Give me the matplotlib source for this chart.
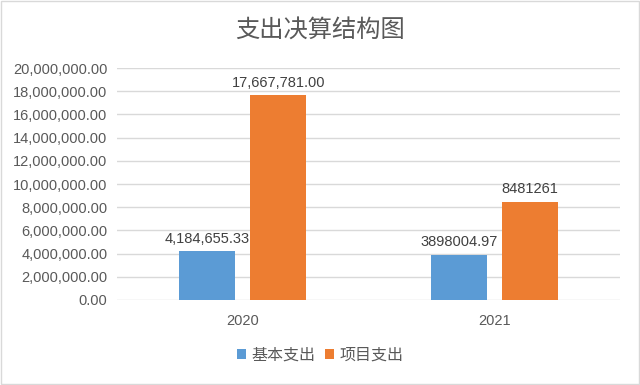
import matplotlib.pyplot as plt
import numpy as np
from matplotlib.ticker import FuncFormatter

plt.rcParams['font.family'] = ['Liberation Sans', 'Noto Sans CJK SC']

# 数据
categories = ['2020', '2021']
basic = [4184655.33, 3898004.97]
project = [17667781.00, 8481261]
basic_labels = ['4,184,655.33', '3898004.97']
project_labels = ['17,667,781.00', '8481261']
series_names = ['基本支出', '项目支出']

blue = '#5B9BD5'
orange = '#ED7D31'
txt = '#595959'

fig = plt.figure(figsize=(6.4, 3.85), dpi=100)
ax = fig.add_axes([0.183, 0.221, 0.786, 0.602])

x = np.arange(len(categories))
w = 0.223
off = 0.141
b1 = ax.bar(x - off, basic, w, color=blue, label=series_names[0], zorder=3)
b2 = ax.bar(x + off, project, w, color=orange, label=series_names[1], zorder=3)

for rect, lab in zip(b1, basic_labels):
    ax.annotate(lab, (rect.get_x() + rect.get_width() / 2, rect.get_height()),
                xytext=(0, 4), textcoords='offset points', ha='center', va='bottom',
                fontsize=10.5, color='#404040')
for rect, lab in zip(b2, project_labels):
    ax.annotate(lab, (rect.get_x() + rect.get_width() / 2, rect.get_height()),
                xytext=(0, 4), textcoords='offset points', ha='center', va='bottom',
                fontsize=10.5, color='#404040')

ax.set_xlim(-0.5, 1.5)
ax.set_ylim(0, 20000000)
ax.set_yticks(np.arange(0, 20000001, 2000000))
ax.yaxis.set_major_formatter(FuncFormatter(lambda v, p: f'{v:,.2f}'))
ax.set_xticks(x)
ax.set_xticklabels(categories)
ax.tick_params(axis='both', length=0, labelsize=10.5, colors=txt)
ax.tick_params(axis='x', pad=10)
ax.tick_params(axis='y', pad=7)
ax.grid(axis='y', color='#D9D9D9', linewidth=1, zorder=0)
for s in ax.spines.values():
    s.set_visible(False)

fig.text(0.5, 0.922, '支出决算结构图', ha='center', va='center', fontsize=17.5,
         color=txt, family=['Noto Sans CJK SC'])

leg = fig.legend(loc='center', bbox_to_anchor=(0.5, 0.078), ncol=2, frameon=False,
                 handlelength=0.6, handleheight=0.6, handletextpad=0.3, columnspacing=0.6,
                 prop={'family': ['Noto Sans CJK SC'], 'size': 11.5})
for t in leg.get_texts():
    t.set_color(txt)

fig.patches.append(plt.Rectangle((0.002, 0.003), 0.996, 0.994, transform=fig.transFigure,
                                 fill=False, edgecolor='#D9D9D9', linewidth=1))

fig.savefig('out.png', dpi=100)
